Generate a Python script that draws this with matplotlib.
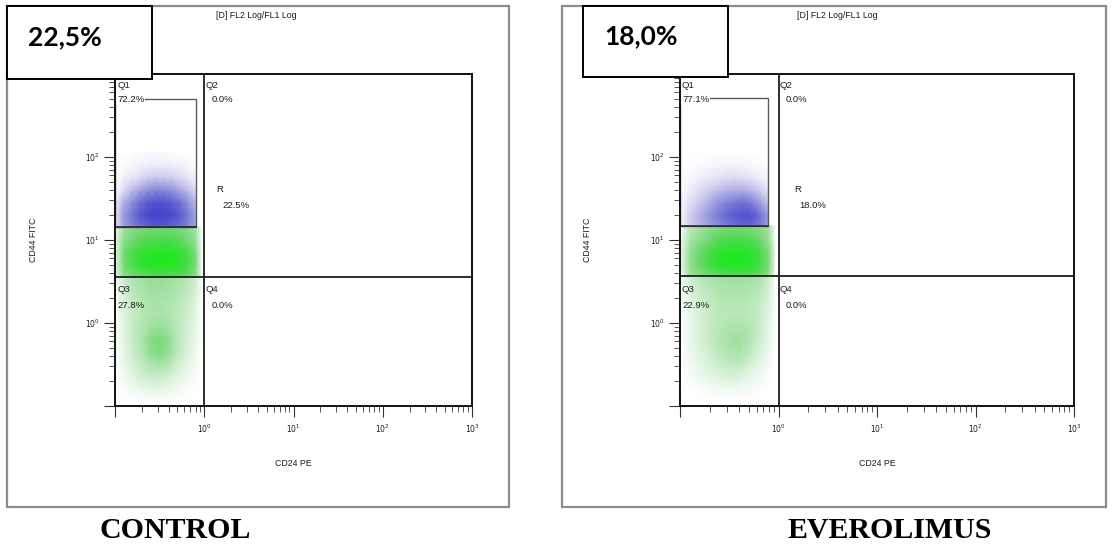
import numpy as np
import matplotlib
matplotlib.use("Agg")
import matplotlib.pyplot as plt
from matplotlib.colors import LinearSegmentedColormap
from matplotlib.patches import Rectangle
from matplotlib.ticker import FixedLocator, FixedFormatter, LogLocator, NullFormatter

# ---------------------------------------------------------------------------
# Data: CD24 (x) vs CD44 (y) event density, log10 decades, per sample
# ---------------------------------------------------------------------------
SAMPLES = ["CONTROL", "EVEROLIMUS"]
R_PERCENT = [22.5, 18.0]
Q1_PERCENT = [72.2, 77.1]
Q2_PERCENT = [0.0, 0.0]
Q3_PERCENT = [27.8, 22.9]
Q4_PERCENT = [0.0, 0.0]

# quadrant markers and R gate (linear units)
QUAD_X = [1.0, 1.0]
QUAD_Y = [3.6, 3.7]
GATE_X_MAX = [0.81, 0.78]
GATE_Y_MIN = [14.4, 14.8]
GATE_Y_MAX = [500.0, 510.0]

# density node positions (log10 of fluorescence)
X_EXP_GREEN = [-1.0, -0.9, -0.8, -0.7, -0.6, -0.5, -0.4, -0.3, -0.2, -0.1, -0.04]
X_EXP_BLUE_CONTROL = [-1.0, -0.91, -0.82, -0.73, -0.64, -0.55, -0.46, -0.37, -0.27, -0.18, -0.09]
X_EXP_BLUE_EVERO = [-1.0, -0.91, -0.82, -0.73, -0.64, -0.55, -0.46, -0.37, -0.28, -0.19, -0.107]

Y_EXP_LOW_CONTROL = [-0.95, -0.8, -0.65, -0.5, -0.35, -0.2, -0.05, 0.1, 0.25, 0.4, 0.556]
Y_EXP_LOW_EVERO = [-0.95, -0.8, -0.65, -0.5, -0.35, -0.2, -0.05, 0.1, 0.25, 0.4, 0.568]
Y_EXP_MID_CONTROL = [0.556, 0.7, 0.85, 1.0, 1.158]
Y_EXP_MID_EVERO = [0.568, 0.7, 0.85, 1.0, 1.17]
Y_EXP_HIGH_CONTROL = [1.158, 1.3, 1.45, 1.6, 1.75, 1.9, 2.05]
Y_EXP_HIGH_EVERO = [1.17, 1.3, 1.45, 1.6, 1.75, 1.9, 2.05]

# relative event density, rows bottom -> top
DENS_LOW_CONTROL = [
    [0, 0, 0, 0, 0, 0, 0, 0, 0, 0, 0],
    [0, .02, .06, .10, .12, .12, .10, .06, .02, 0, 0],
    [0, .06, .14, .20, .24, .24, .20, .14, .08, .03, 0],
    [0, .10, .20, .28, .36, .40, .34, .22, .14, .06, 0],
    [0, .12, .24, .34, .50, .55, .46, .30, .18, .08, 0],
    [0, .14, .26, .36, .52, .58, .50, .32, .20, .10, .02],
    [0, .14, .26, .34, .42, .45, .40, .30, .22, .12, .02],
    [0, .15, .26, .32, .36, .38, .36, .30, .24, .14, .03],
    [.02, .16, .28, .34, .38, .38, .36, .32, .26, .16, .04],
    [.03, .20, .32, .38, .42, .42, .40, .36, .30, .20, .05],
    [.04, .25, .36, .42, .46, .46, .44, .40, .34, .22, .06],
]
DENS_MID_CONTROL = [
    [.10, .50, .60, .65, .70, .72, .72, .70, .65, .50, .15],
    [.12, .60, .80, .92, 1.0, 1.0, 1.0, .95, .85, .60, .15],
    [.12, .60, .80, .90, .98, 1.0, 1.0, .95, .82, .58, .15],
    [.10, .50, .62, .70, .75, .78, .78, .72, .62, .48, .12],
    [.08, .40, .50, .55, .58, .60, .60, .55, .50, .40, .10],
]
DENS_HIGH_CONTROL = [
    [.10, .45, .60, .70, .75, .80, .80, .75, .70, .60, .45],
    [.10, .50, .65, .80, .90, .95, .95, .90, .80, .65, .45],
    [.06, .40, .55, .70, .80, .85, .85, .80, .70, .55, .35],
    [.03, .20, .35, .45, .55, .60, .60, .55, .45, .35, .20],
    [0, .08, .15, .20, .28, .30, .30, .28, .22, .15, .08],
    [0, .02, .05, .08, .10, .12, .12, .10, .08, .05, .02],
    [0, 0, 0, .02, .03, .04, .03, .02, 0, 0, 0],
]

DENS_LOW_EVERO = [
    [0, 0, 0, 0, 0, 0, 0, 0, 0, 0, 0],
    [0, 0, .02, .04, .06, .07, .06, .04, .02, 0, 0],
    [0, .03, .08, .12, .16, .18, .16, .12, .07, .02, 0],
    [0, .06, .12, .18, .24, .28, .28, .20, .12, .05, 0],
    [0, .08, .15, .22, .30, .36, .38, .30, .18, .08, 0],
    [0, .10, .18, .26, .34, .40, .42, .36, .24, .10, .02],
    [0, .10, .18, .26, .32, .36, .38, .34, .26, .12, .02],
    [0, .10, .20, .26, .30, .32, .32, .30, .26, .14, .03],
    [.02, .12, .22, .28, .32, .34, .34, .32, .28, .16, .04],
    [.03, .16, .26, .32, .36, .38, .38, .36, .32, .20, .05],
    [.04, .22, .32, .38, .42, .44, .44, .42, .38, .24, .06],
]
DENS_MID_EVERO = [
    [.06, .40, .52, .60, .68, .72, .74, .72, .66, .48, .12],
    [.08, .48, .65, .82, .95, 1.0, 1.0, .97, .85, .58, .14],
    [.08, .46, .65, .82, .95, 1.0, 1.0, .97, .85, .56, .14],
    [.06, .38, .50, .62, .72, .78, .80, .76, .66, .46, .10],
    [.05, .30, .40, .48, .55, .58, .60, .56, .50, .38, .08],
]
DENS_HIGH_EVERO = [
    [.04, .25, .35, .45, .55, .62, .70, .75, .75, .65, .45],
    [.04, .25, .38, .50, .62, .72, .80, .85, .85, .70, .50],
    [.02, .18, .28, .38, .50, .60, .65, .70, .65, .50, .32],
    [0, .10, .18, .25, .32, .38, .42, .42, .38, .28, .16],
    [0, .04, .08, .12, .16, .20, .22, .20, .16, .10, .05],
    [0, 0, .02, .04, .06, .07, .07, .06, .04, .02, .01],
    [0, 0, 0, 0, 0, 0, 0, 0, 0, 0, 0],
]

X_TICK_EXP = [-1, 0, 1, 2, 3]
X_TICK_LABELS = ["", "$10^{0}$", "$10^{1}$", "$10^{2}$", "$10^{3}$"]
Y_TICK_EXP = [-1, 0, 1, 2, 3]
Y_TICK_LABELS = ["", "$10^{0}$", "$10^{1}$", "$10^{2}$", ""]

# ---------------------------------------------------------------------------
W, H = 1112, 547
fig = plt.figure(figsize=(W / 100, H / 100), dpi=100)
fig.patch.set_facecolor("white")


def fx(px):
    return px / W


def fy(py):
    return 1 - py / H


green_cmap = LinearSegmentedColormap.from_list(
    "events_green",
    [(0, "#ffffff"), (0.2, "#d4f0d4"), (0.45, "#9ade9a"), (0.7, "#5cd65c"), (1.0, "#22e822")])
blue_cmap = LinearSegmentedColormap.from_list(
    "events_blue",
    [(0, "#ffffff"), (0.2, "#dedef4"), (0.5, "#9c9ce0"), (0.8, "#5b5bd0"), (1.0, "#3a3acc")])

panels = [
    dict(frame=(7, 6, 509, 507), ax=(115, 74, 472, 406), box=(7, 6, 152, 79),
         box_text=(28, 37), title_x=256, ylab_x=33,
         low=(X_EXP_GREEN, Y_EXP_LOW_CONTROL, DENS_LOW_CONTROL),
         mid=(X_EXP_GREEN, Y_EXP_MID_CONTROL, DENS_MID_CONTROL),
         high=(X_EXP_BLUE_CONTROL, Y_EXP_HIGH_CONTROL, DENS_HIGH_CONTROL),
         name_xy=(175, 530)),
    dict(frame=(562, 6, 1106, 507), ax=(680, 74, 1074, 406), box=(583, 6, 728, 77),
         box_text=(604, 36), title_x=837, ylab_x=588,
         low=(X_EXP_GREEN, Y_EXP_LOW_EVERO, DENS_LOW_EVERO),
         mid=(X_EXP_GREEN, Y_EXP_MID_EVERO, DENS_MID_EVERO),
         high=(X_EXP_BLUE_EVERO, Y_EXP_HIGH_EVERO, DENS_HIGH_EVERO),
         name_xy=(890, 531)),
]

TXT = "#1c1c1c"

for i, p in enumerate(panels):
    l, t, r, b = p["frame"]
    fig.add_artist(Rectangle((fx(l), fy(b)), fx(r) - fx(l), fy(t) - fy(b),
                             transform=fig.transFigure, fill=False,
                             edgecolor="#8c8c8c", lw=1.6, zorder=-5))

    al, at, ar, ab = p["ax"]
    ax = fig.add_axes([fx(al), fy(ab), fx(ar) - fx(al), fy(at) - fy(ab)])
    ax.set_xscale("log")
    ax.set_yscale("log")
    ax.set_xlim(10.0 ** X_TICK_EXP[0], 10.0 ** X_TICK_EXP[-1])
    ax.set_ylim(10.0 ** Y_TICK_EXP[0], 10.0 ** Y_TICK_EXP[-1])

    # event density, three regions with sharp borders at the gate / quadrant lines
    for key, cmap in (("low", green_cmap), ("mid", green_cmap), ("high", blue_cmap)):
        xe, ye, dens = p[key]
        X, Y = np.meshgrid(10.0 ** np.array(xe), 10.0 ** np.array(ye))
        ax.pcolormesh(X, Y, np.array(dens), shading="gouraud", cmap=cmap,
                      vmin=0, vmax=1, zorder=1)

    # quadrant markers and R gate
    ax.axvline(QUAD_X[i], color="#1e1e1e", lw=1.3, zorder=3)
    ax.axhline(QUAD_Y[i], color="#1e1e1e", lw=1.3, zorder=3)
    x0 = 10.0 ** X_TICK_EXP[0]
    ax.add_patch(Rectangle((x0, GATE_Y_MIN[i]), GATE_X_MAX[i] - x0,
                           GATE_Y_MAX[i] - GATE_Y_MIN[i], fill=False,
                           edgecolor="#5a5a5a", lw=1.0, zorder=3))
    ax.plot([x0, GATE_X_MAX[i]], [GATE_Y_MIN[i], GATE_Y_MIN[i]], color="#2a2a2a",
            lw=1.2, zorder=3)

    for s in ax.spines.values():
        s.set_linewidth(1.4)
        s.set_color("#111111")
        s.set_zorder(4)

    ax.xaxis.set_major_locator(FixedLocator([10.0 ** e for e in X_TICK_EXP]))
    ax.xaxis.set_major_formatter(FixedFormatter(X_TICK_LABELS))
    ax.yaxis.set_major_locator(FixedLocator([10.0 ** e for e in Y_TICK_EXP]))
    ax.yaxis.set_major_formatter(FixedFormatter(Y_TICK_LABELS))
    for axis in (ax.xaxis, ax.yaxis):
        axis.set_minor_locator(LogLocator(base=10, subs=range(2, 10), numticks=20))
        axis.set_minor_formatter(NullFormatter())
    ax.tick_params(which="major", direction="out", length=8, width=0.8,
                   color="#333333", labelsize=5.5, labelcolor=TXT)
    ax.tick_params(which="minor", direction="out", length=4.5, width=0.7,
                   color="#555555")
    ax.tick_params(axis="x", which="major", pad=4)
    ax.tick_params(axis="y", which="major", pad=3)

    # quadrant / gate labels
    def atext(px, py, s, **kw):
        ax.text((px - al) / (ar - al), (ab - py) / (ab - at), s,
                transform=ax.transAxes, fontsize=6.8, color=TXT, va="center",
                ha="left", zorder=5, family="Liberation Sans", **kw)

    qx = al + (ar - al) * 0.25
    atext(al + 2, 85, "Q1")
    atext(al + 2, 100, f"{Q1_PERCENT[i]:.1f}%",
          bbox=dict(facecolor="white", edgecolor="none", pad=0.6))
    atext(qx + 1, 85, "Q2")
    atext(qx + 7, 100, f"{Q2_PERCENT[i]:.1f}%")
    atext(qx + 12 + 4 * i, 189, "R")
    atext(qx + 18 + 3 * i, 205, f"{R_PERCENT[i]:.1f}%")
    atext(al + 2, 290, "Q3")
    atext(al + 2, 305, f"{Q3_PERCENT[i]:.1f}%")
    atext(qx + 1, 290, "Q4")
    atext(qx + 7, 305, f"{Q4_PERCENT[i]:.1f}%")

    # axis titles and header
    fig.text(fx(p["title_x"]), fy(15), "[D] FL2 Log/FL1 Log", ha="center", va="center",
             fontsize=6.3, color=TXT, family="Liberation Sans")
    fig.text(fx((al + ar) / 2), fy(464), "CD24 PE", ha="center", va="center",
             fontsize=6.3, color=TXT, family="Liberation Sans")
    fig.text(fx(p["ylab_x"]), fy((at + ab) / 2), "CD44 FITC", ha="center", va="center",
             rotation=90, fontsize=6.3, color=TXT, family="Liberation Sans")

    # percentage box
    bl, bt, br, bb = p["box"]
    fig.add_artist(Rectangle((fx(bl), fy(bb)), fx(br) - fx(bl), fy(bt) - fy(bb),
                             transform=fig.transFigure, facecolor="white",
                             edgecolor="black", lw=1.4, zorder=6))
    fig.text(fx(p["box_text"][0]), fy(p["box_text"][1]),
             f"{R_PERCENT[i]:.1f}%".replace(".", ","), ha="left", va="center",
             fontsize=19, fontweight="bold", family="Lato", color="black", zorder=7)

    # sample name
    fig.text(fx(p["name_xy"][0]), fy(p["name_xy"][1]), SAMPLES[i], ha="center",
             va="center", fontsize=21.5, fontweight="bold", family="Liberation Serif",
             color="black")

fig.savefig("out.png", dpi=100, facecolor="white")
